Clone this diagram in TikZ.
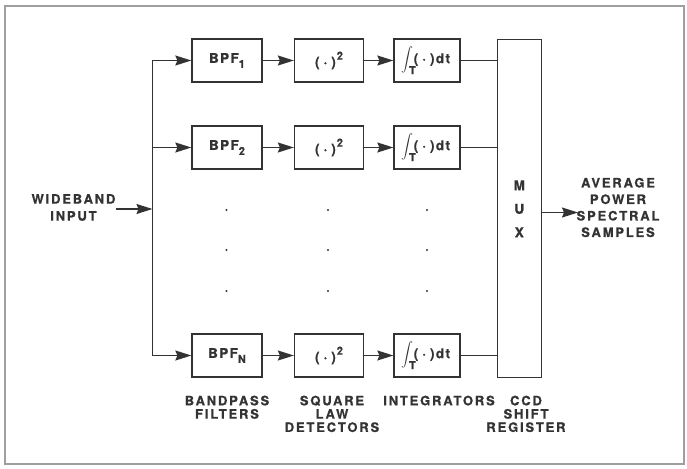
\documentclass[tikz,border=0pt]{standalone}
\usepackage{exscale}
\usepackage{fontspec}
\usetikzlibrary{arrows.meta}
\newfontfamily\labfont[LetterSpace=14, BoldFeatures={FakeBold=0.8}]{TeX Gyre Heros}
\newfontfamily\boxfont[LetterSpace=10, BoldFeatures={FakeBold=0.9}]{TeX Gyre Heros}
\definecolor{ink}{HTML}{333333}
\newcommand\lowsub[1]{\raisebox{-5pt}{\fontsize{11}{11}\selectfont #1}}
\newcommand\highsup[1]{\raisebox{7pt}{\fontsize{11}{11}\selectfont #1}}
\newcommand\dotpar{(\kern4pt·\kern4pt)}
\newcommand\sqtext{\dotpar\kern1pt\highsup{2}}
\newcommand\inttext{\kern-3pt{\fontsize{13}{13}\selectfont$\displaystyle\int$}\kern-4pt\raisebox{-11pt}{\fontsize{11}{11}\selectfont T}\kern-2pt\dotpar dt}
\begin{document}
\begin{tikzpicture}[x=1pt,y=-1pt,
  box/.style={draw=ink, line width=1.3pt, minimum height=43pt, inner sep=0pt,
    text=ink, font=\boxfont\bfseries\fontsize{13.5}{14}\selectfont},
  arr/.style={draw=ink, line width=1.3pt, -{Stealth[length=16pt,width=10pt,inset=2pt]}},
  ln/.style={draw=ink, line width=1.3pt},
  lbl/.style={font=\labfont\bfseries\fontsize{13}{13.3}\selectfont, text=ink, align=center, inner sep=0pt},
  dotm/.style={circle, fill=ink, inner sep=0pt, minimum size=2.4pt}]
\useasboundingbox (0,0) rectangle (687,468);
\draw[gray!75, line width=1.6pt] (5,6) rectangle (684,464);

% row 1
\node[box, minimum width=70pt] (b1) at (227,60.5) {BPF\lowsub{1}};
\node[box, minimum width=69pt] (s1) at (329,60.5) {\sqtext};
\node[box, minimum width=66pt] (i1) at (427,60.5) {\inttext};
% row 2
\node[box, minimum width=70pt] (b2) at (227,147.5) {BPF\lowsub{2}};
\node[box, minimum width=69pt] (s2) at (329,147.5) {\sqtext};
\node[box, minimum width=66pt] (i2) at (427,147.5) {\inttext};
% row N
\node[box, minimum width=70pt] (bN) at (227,355.5) {BPF\lowsub{N}};
\node[box, minimum width=69pt] (sN) at (329,355.5) {\sqtext};
\node[box, minimum width=66pt] (iN) at (427,355.5) {\inttext};

% MUX
\node[box, minimum width=44pt, minimum height=338pt, align=center,
  font=\boxfont\bfseries\fontsize{13.5}{23.5}\selectfont] (mux) at (519.3,208.8) {M\\U\\X};

% dots
\foreach \x/\c in {226.5/a,328/b,427/c}
  \foreach \y/\r in {210/1,250/2,291/3}
    \node[dotm] (d\c\r) at (\x,\y) {};

% bus
\coordinate (bt) at (152.5,60.5);
\coordinate (bm) at (152.5,209);
\coordinate (bb) at (152.5,355.5);
\coordinate (inS) at (116,209);
\draw[ln] (bt) -- (bb);
\draw[arr] (inS) -- (bm);
\draw[arr] (bt) -- (b1.west);
\draw[arr] (b2.west -| bt) -- (b2.west);
\draw[arr] (bb) -- (bN.west);
\foreach \r in {1,2,N}{
  \draw[arr] (b\r) -- (s\r);
  \draw[arr] (s\r) -- (i\r);
  \draw[ln] (i\r.east) -- (i\r.east -| mux.west);
}
\coordinate (outE) at (578,212.5);
\draw[arr] (mux.east |- outE) -- (outE);

% labels
\node[lbl, font=\labfont\bfseries\fontsize{13}{17}\selectfont] (win) at (73.5,207.5) {WIDEBAND\\INPUT};
\node[lbl, font=\labfont\bfseries\fontsize{13}{16.5}\selectfont] (out) at (618,207.5) {AVERAGE\\POWER\\SPECTRAL\\SAMPLES};
\node[lbl, anchor=north] (lb1) at (227,395.5) {BANDPASS\\FILTERS};
\node[lbl, anchor=north] (lb2) at (332,395.5) {SQUARE\\LAW\\DETECTORS};
\node[lbl, anchor=north] (lb3) at (439,395.5) {INTEGRATORS};
\node[lbl, anchor=north] (lb4) at (526,395.5) {CCD\\SHIFT\\REGISTER};
\end{tikzpicture}
\end{document}
